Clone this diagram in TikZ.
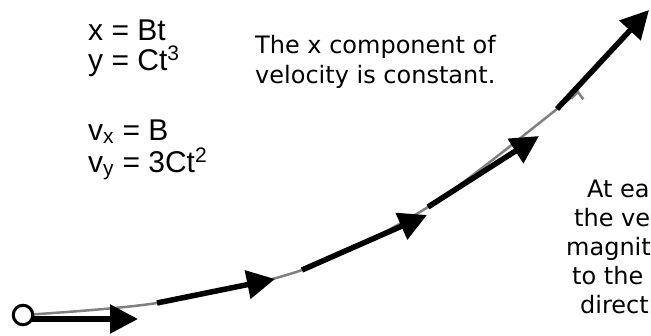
\documentclass[tikz,border=0pt]{standalone}
\usepackage{fontspec}
\setmainfont{Liberation Sans}
\newfontfamily\comicfont{DejaVu Sans}
\usetikzlibrary{arrows.meta}
\begin{document}
\begin{tikzpicture}[x=1pt,y=-1pt,
  eq/.style={anchor=base west, inner sep=0pt, font=\fontsize{30}{36}\selectfont},
  note/.style={anchor=base west, inner sep=0pt, font=\comicfont\fontsize{24}{30}\selectfont},
  pathline/.style={draw=gray, line width=2.5pt, -{Straight Barb[length=7pt,width=12pt]}},
  vel/.style={draw=black, line width=5.5pt, -{Triangle[length=28pt,width=28pt]}},
  startpt/.style={circle, draw=black, fill=white, line width=3pt, minimum size=19.5pt, inner sep=0pt}]
\useasboundingbox (0,0) rectangle (651,335);
\clip (0,0) rectangle (651,335);
% points on the path
\coordinate (p0) at (23,315);
\coordinate (p1) at (157,303);
\coordinate (p2) at (302,270);
\coordinate (p3) at (428,207);
\coordinate (p4) at (557,109);
\coordinate (pend) at (578,90);
% velocity tips
\coordinate (a0) at (23,319);
\coordinate (v0) at (138,319);
\coordinate (v1) at (275,279);
\coordinate (v2) at (427,215);
\coordinate (v3) at (539,136);
\coordinate (v4) at (649,10);
% path
\draw[pathline] plot[smooth, tension=0.5] coordinates {(p0) (p1) (p2) (p3) (p4) (pend)};
% velocity vectors
\draw[vel] (a0) -- (v0);
\draw[vel] (p1) -- (v1);
\draw[vel] (p2) -- (v2);
\draw[vel] (p3) -- (v3);
\draw[vel] (p4) -- (v4);
\node[startpt] (o) at (p0) {};
% equations
\node[eq] (eqx) at (88,40) {x = Bt};
\node[eq] (eqy) at (88,70) {y = Ct\textsuperscript{3}};
\node[eq] (eqvx) at (88,140) {v\textsubscript{x} = B};
\node[eq] (eqvy) at (88,172) {v\textsubscript{y} = 3Ct\textsuperscript{2}};
% notes
\node[note] (n1) at (255,53) {The x component of};
\node[note] (n2) at (255,83) {velocity is constant.};
\node[note] (r1) at (587,197) {At ea};
\node[note] (r2) at (574,226) {the ve};
\node[note] (r3) at (566,255) {magnit};
\node[note] (r4) at (572,284) {to the};
\node[note] (r5) at (580,313) {direct};
\end{tikzpicture}
\end{document}
